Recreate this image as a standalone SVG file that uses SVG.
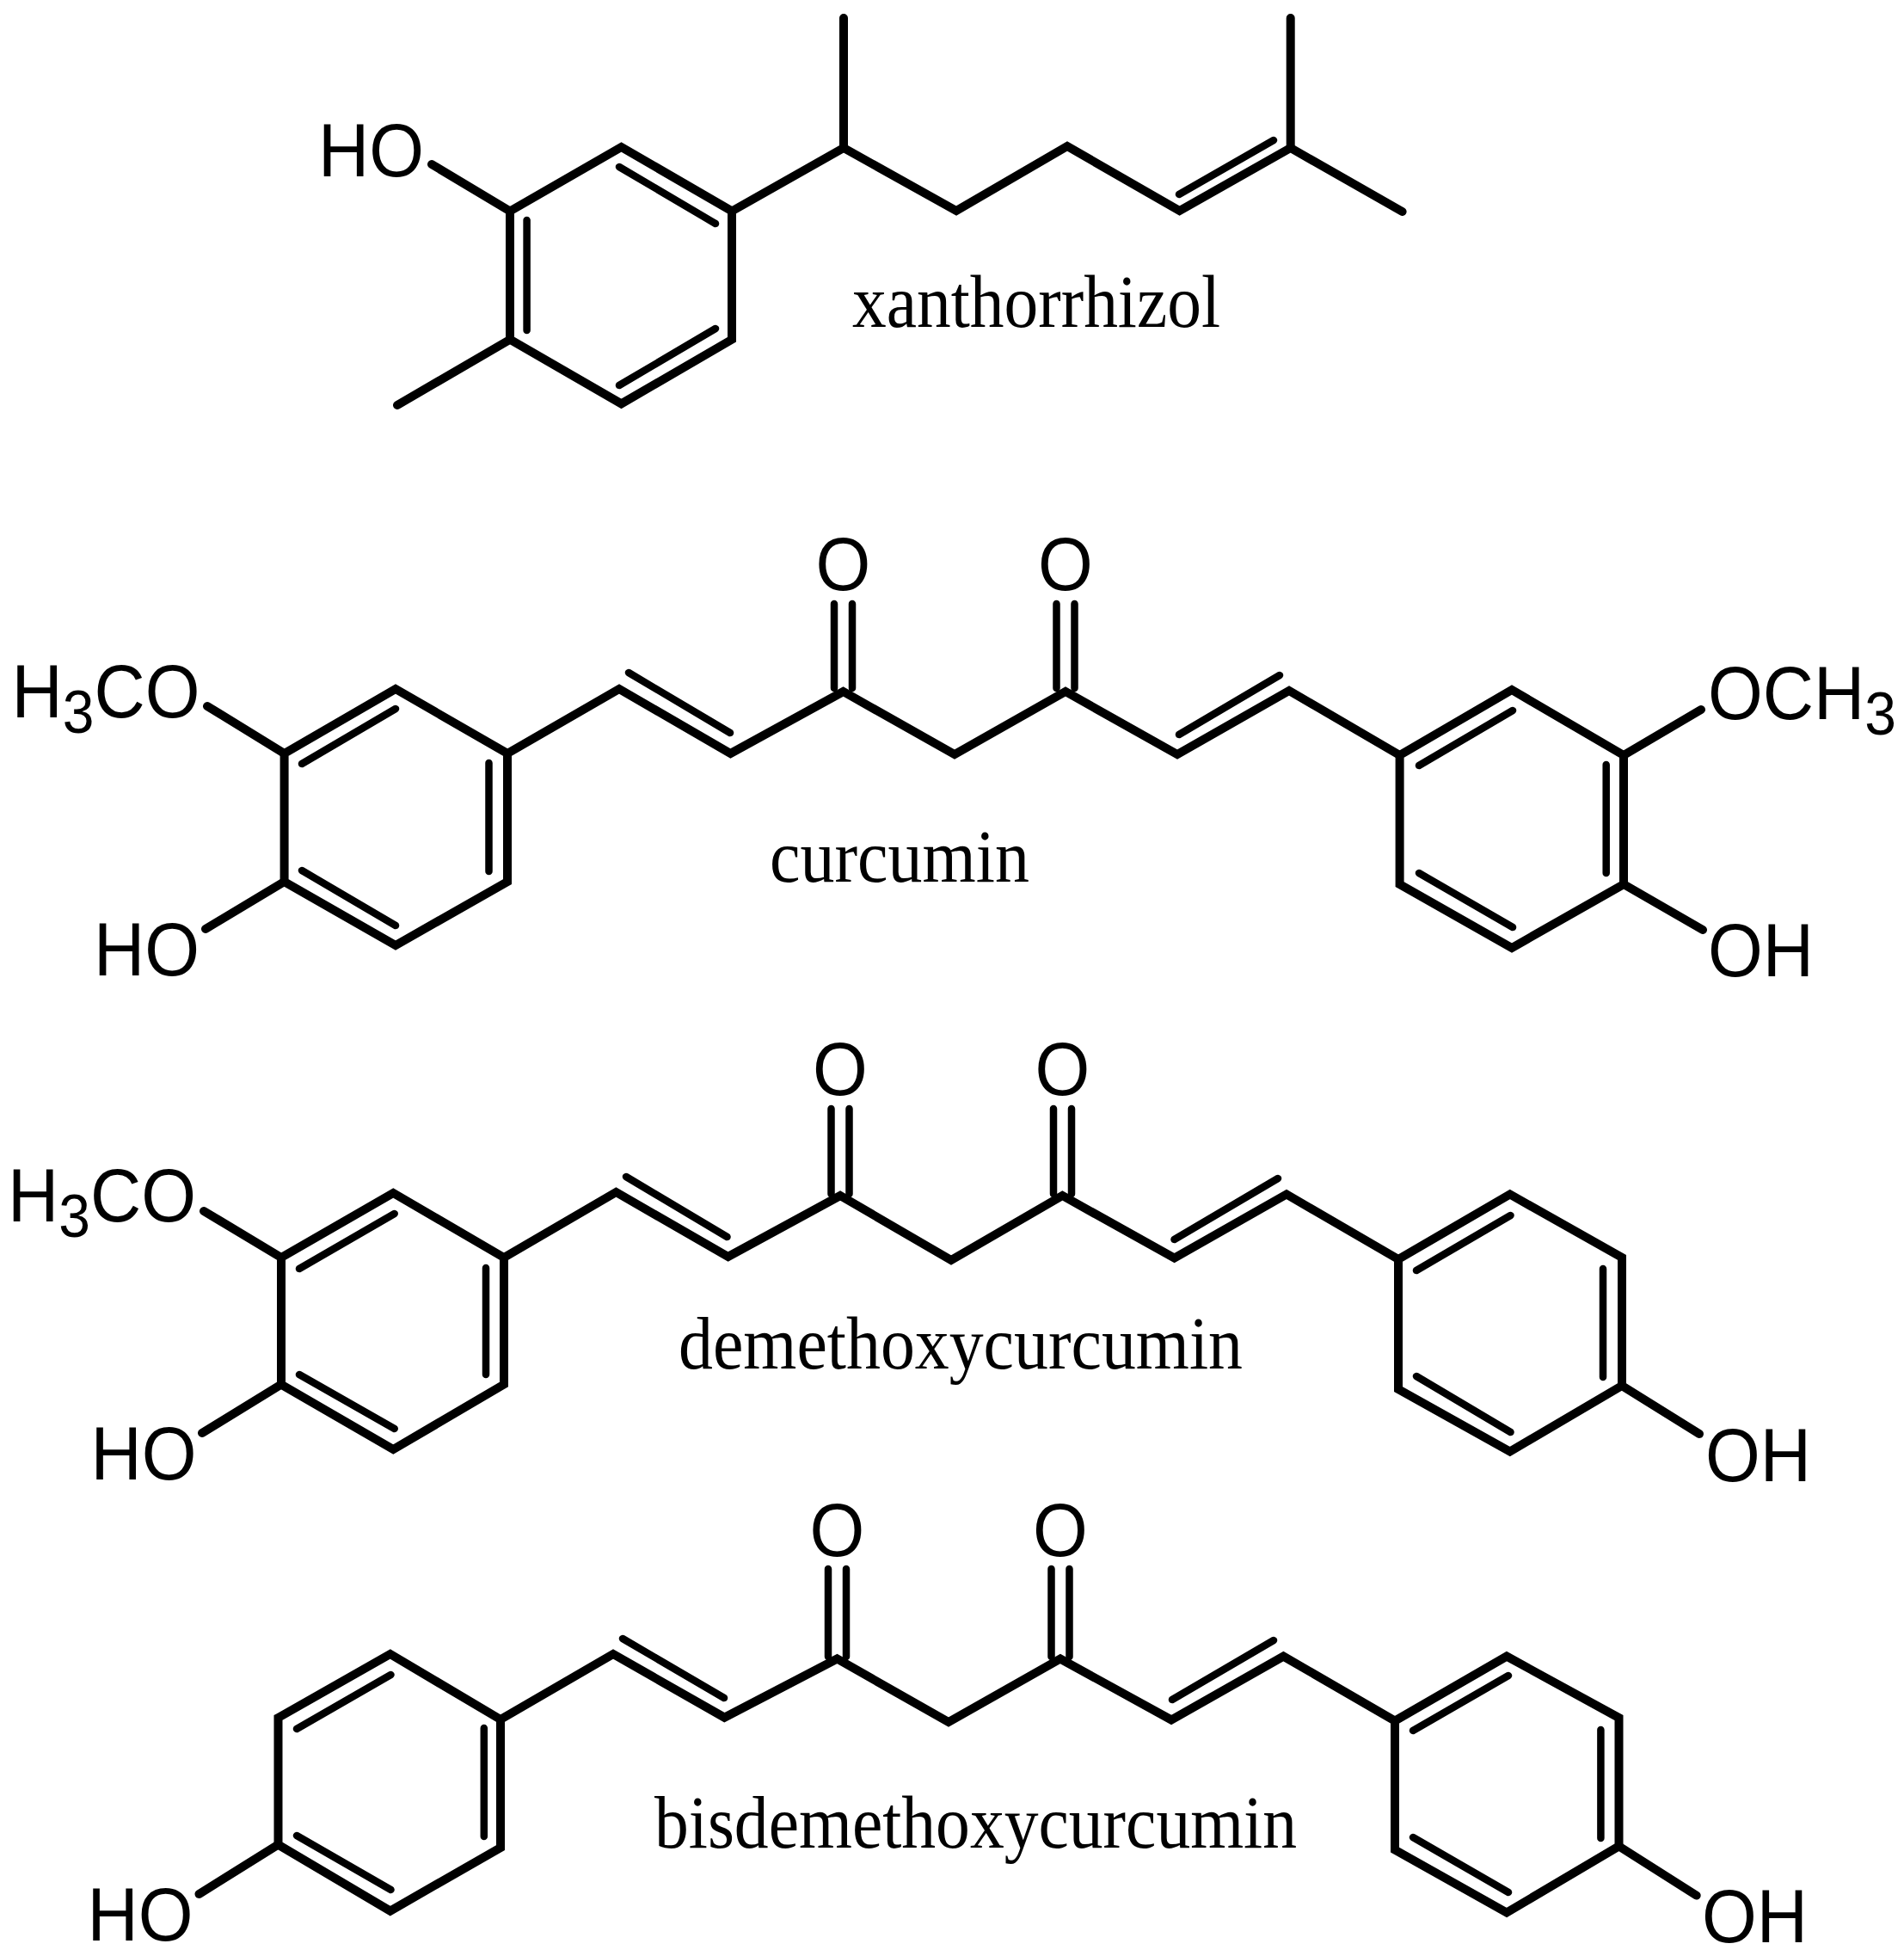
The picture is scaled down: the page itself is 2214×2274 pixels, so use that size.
<svg xmlns="http://www.w3.org/2000/svg" width="2214" height="2274" viewBox="0 0 2214 2274">
<style>
.b{fill:none;stroke:#000;stroke-width:10;stroke-linejoin:miter;stroke-miterlimit:10;stroke-linecap:round}
.i{fill:none;stroke:#000;stroke-width:8.5;stroke-linecap:round}
.a{font-family:"Liberation Sans",Arial,sans-serif;font-size:82px;fill:#000}
.n{font-family:"Liberation Serif","Times New Roman",serif;font-size:83px;fill:#000}
.s{font-size:66px}
</style>
<rect width="2214" height="2274" fill="#fff"/>
<g id="xanthorrhizol">
<g id="bonds-xanthorrhizol">
<path class="b" d="M593 245.5L722.5 171L851 245.5V394.7L722.5 469.4L593 394.7Z"/>
<path class="b" d="M502 191L593 245.5M462 471L593 394.7"/>
<path class="b" d="M851 245.5L981 172L1112 245L1241 170L1371.6 245L1500.7 172L1630.6 246"/>
<path class="b" d="M981 172V21M1500.7 172V21"/>
<path class="i" d="M720 194L832 260M612.6 256V384M832 382L720 448M1371 226L1481 163"/>
</g>
<text class="a" transform="translate(370 205) scale(1 1.07)">HO</text>
<text class="n" transform="translate(991 380) scale(1 1.04)" textLength="428" lengthAdjust="spacingAndGlyphs">xanthorrhizol</text>
</g>
<g id="curcumin">
<g id="bonds-curcumin">
<path class="b" d="M330.6 876L460 801L590 876V1025L460 1099L330.6 1025Z"/>
<path class="b" d="M241 821L330.6 876M239 1080L330.6 1025"/>
<path class="b" d="M590 876L720 801L849.5 876L980.5 804L1110 877L1239 804L1369 877L1499 803L1627.6 878"/>
<path class="b" d="M1627.6 878L1758 802L1888 878V1028L1758 1102L1627.6 1028Z"/>
<path class="b" d="M1978 825L1888 878M1980 1081L1888 1028"/>
<path class="i" d="M460 824L351 888M568.5 887V1013M351 1012L460 1076M731 782L849 852M970 702V800M991 702V800M1228.5 702V800M1249.5 702V800M1371 854L1488 785M1650 890L1759 826M1867.7 889V1015M1650 1015L1759 1078"/>
</g>
<text class="a" transform="translate(13.5 834) scale(1 1.07)">H<tspan class="s" dy="17">3</tspan><tspan dy="-17">CO</tspan></text>
<text class="a" transform="translate(109 1134) scale(1 1.07)">HO</text>
<text class="a" transform="translate(980.5 686) scale(1 1.07)" text-anchor="middle">O</text>
<text class="a" transform="translate(1239 686) scale(1 1.07)" text-anchor="middle">O</text>
<text class="a" transform="translate(1986 836) scale(1 1.07)">OCH<tspan class="s" dy="17">3</tspan></text>
<text class="a" transform="translate(1986 1135) scale(1 1.07)">OH</text>
<text class="n" transform="translate(895 1025) scale(1 1.04)" textLength="302" lengthAdjust="spacingAndGlyphs">curcumin</text>
</g>
<g id="demethoxycurcumin">
<g id="bonds-demethoxycurcumin">
<path class="b" d="M327 1462L457.3 1387L586 1462V1609.5L457.3 1685L327 1609.5Z"/>
<path class="b" d="M237 1408L327 1462M235 1666L327 1609.5"/>
<path class="b" d="M586 1462L716.4 1386L846.7 1461L977 1390L1106 1465L1235.4 1390L1365.6 1462.6L1496 1388.5L1626 1464"/>
<path class="b" d="M1626 1464L1755.8 1388.5L1886 1462V1611L1755.8 1687.5L1626 1615Z"/>
<path class="b" d="M1976 1667L1886 1611"/>
<path class="i" d="M458.7 1411L348 1475M565 1474V1598M348 1598L458.7 1661M728 1368L845.5 1438M966.5 1289V1388M987.5 1289V1388M1225 1289V1388M1246 1289V1388M1365.5 1441L1486 1370M1647 1477L1756.5 1413M1864 1475V1601M1647 1600L1756.5 1665"/>
</g>
<text class="a" transform="translate(9 1420) scale(1 1.07)">H<tspan class="s" dy="17">3</tspan><tspan dy="-17">CO</tspan></text>
<text class="a" transform="translate(105.5 1720) scale(1 1.07)">HO</text>
<text class="a" transform="translate(977 1273) scale(1 1.07)" text-anchor="middle">O</text>
<text class="a" transform="translate(1235.4 1273) scale(1 1.07)" text-anchor="middle">O</text>
<text class="a" transform="translate(1983 1722) scale(1 1.07)">OH</text>
<text class="n" transform="translate(789 1591) scale(1 1.04)" textLength="656" lengthAdjust="spacingAndGlyphs">demethoxycurcumin</text>
</g>
<g id="bisdemethoxycurcumin">
<g id="bonds-bisdemethoxycurcumin">
<path class="b" d="M323.5 1997L453.8 1923L582 1999V2148L453.8 2221.6L323.5 2144.6Z"/>
<path class="b" d="M231.5 2202L323.5 2144.6"/>
<path class="b" d="M582 1999L713 1923L842.4 1996.7L973.4 1928.5L1103 2002L1233 1928.5L1362 1999.5L1492.4 1925.6L1622 2000.6"/>
<path class="b" d="M1622 2000.6L1752 1925.6L1882.5 1997V2146.4L1752 2223.5L1622 2150.5Z"/>
<path class="b" d="M1972.7 2203.6L1882.5 2146.4"/>
<path class="i" d="M454.5 1947L345 2010M562.8 2009V2135M345 2134L454.5 2197M724 1905L842 1974M963 1824V1926M984 1824V1926M1222.5 1824V1926M1243.5 1824V1926M1363 1976L1481 1907M1643 2012L1754 1948M1861.4 2011V2137M1643 2136L1754 2200"/>
</g>
<text class="a" transform="translate(101.5 2256) scale(1 1.07)">HO</text>
<text class="a" transform="translate(973.4 1809) scale(1 1.07)" text-anchor="middle">O</text>
<text class="a" transform="translate(1233 1809) scale(1 1.07)" text-anchor="middle">O</text>
<text class="a" transform="translate(1979 2258) scale(1 1.07)">OH</text>
<text class="n" transform="translate(761 2147.5) scale(1 1.04)" textLength="747" lengthAdjust="spacingAndGlyphs">bisdemethoxycurcumin</text>
</g>
</svg>
